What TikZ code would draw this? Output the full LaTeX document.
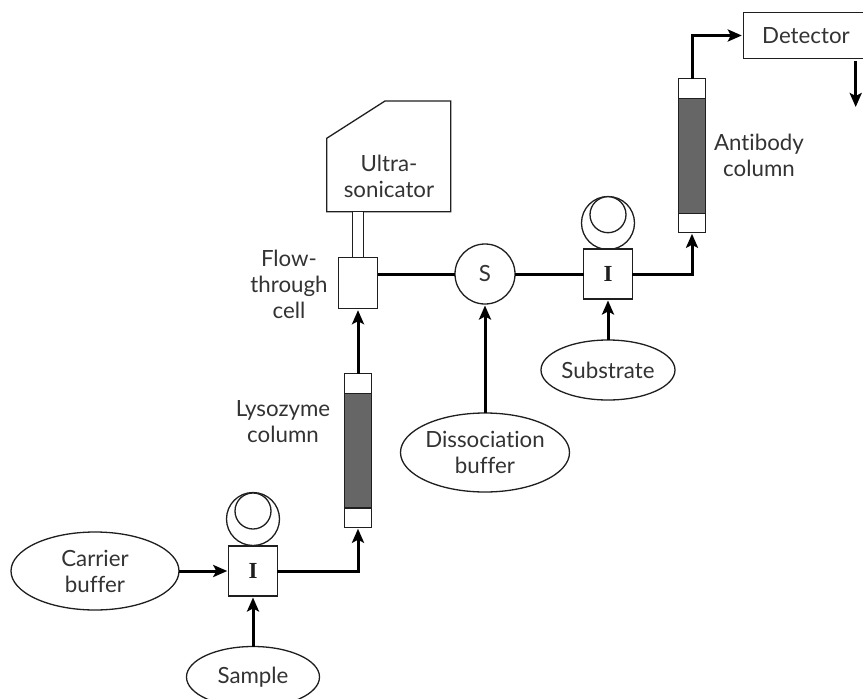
\documentclass[tikz,border=0pt]{standalone}
\usepackage{fontspec}
\setmainfont[Ligatures={NoCommon}]{Lato}
\newfontfamily\injfont{Liberation Serif}
\usetikzlibrary{arrows.meta,shapes.geometric,calc}
\definecolor{ink}{gray}{0.12}
\definecolor{tx}{gray}{0.2}
\definecolor{packing}{gray}{0.4}
\tikzset{
 x=1pt,y=-1pt,
 shapeline/.style={draw=ink,line width=1.3pt,fill=white,inner sep=0pt,outer sep=0pt},
 oval/.style={shapeline,ellipse,align=center,font=\lab,text=tx},
 lbl/.style={align=center,font=\lab,inner sep=0pt,text=tx},
 injbox/.style={shapeline,rectangle,minimum width=48.5pt,minimum height=50pt,font=\fontsize{23}{26}\injfont\bfseries,text=ink},
 flow/.style={draw=black,line width=3pt,line join=miter},
 flowa/.style={flow,-{Stealth[length=14pt,width=12pt,inset=3pt]},shorten >=1.5pt},
}
\newcommand{\lab}{\fontsize{22.3}{26}\selectfont}
\begin{document}
\begin{tikzpicture}
\useasboundingbox (0,0) rectangle (863,699);
% ellipses
\node[oval,minimum width=168pt,minimum height=78pt] (carrier) at (95,571) {Carrier\\buffer};
\node[oval,minimum width=133pt,minimum height=61pt] (sample) at (253,677) {Sample};
\node[oval,minimum width=169pt,minimum height=79pt] (diss) at (485,452.5) {Dissociation\\buffer};
\node[oval,minimum width=134pt,minimum height=60pt] (subs) at (608,370) {Substrate};
% injector 1
\node[shapeline,circle,minimum size=53pt] (pumpA) at (253,519) {};
\node[shapeline,circle,minimum size=36pt] (rollA) at (253,511) {};
\node[injbox] (injA) at (253,571) {I};
% injector 2
\node[shapeline,circle,minimum size=53pt] (pumpB) at (608,223) {};
\node[shapeline,circle,minimum size=36pt] (rollB) at (608,214.7) {};
\node[injbox] (injB) at (608,274) {I};
% lysozyme column
\node[shapeline,rectangle,minimum width=26.5pt,minimum height=153.5pt] (lyso) at (358,450.5) {};
\node[shapeline,rectangle,fill=packing,minimum width=26.5pt,minimum height=114.7pt] (lysoP) at (358,450.6) {};
% antibody column
\node[shapeline,rectangle,minimum width=26.7pt,minimum height=153.6pt] (anti) at (692,155.5) {};
\node[shapeline,rectangle,fill=packing,minimum width=26.7pt,minimum height=115pt] (antiP) at (692,155.8) {};
% ultrasonicator
\coordinate (uA) at (326.7,211.7);
\coordinate (uB) at (450.7,211.7);
\coordinate (uC) at (450.7,101);
\coordinate (uD) at (385,101);
\coordinate (uE) at (326.7,138.3);
\draw[draw=ink,line width=1.3pt,line join=miter] (uA) -- (uB) -- (uC) -- (uD) -- (uE) -- cycle;
\node[lbl] (ultra) at (389,176.5) {Ultra-\\sonicator};
% flow cell and stem
\node[shapeline,rectangle,minimum width=39pt,minimum height=51.4pt] (cell) at (358,283) {};
\node[shapeline,rectangle,minimum width=11pt,minimum height=45.6pt] (stem) at (358,234.5) {};
% switch
\node[shapeline,circle,minimum size=60pt,font=\lab,text=tx] (switch) at (485,274) {S};
% detector
\node[shapeline,rectangle,minimum width=140pt,minimum height=46.4pt,anchor=west] (det) at (743.3,35.5) {};
\node[lbl] (detT) at (806,36) {Detector};
\coordinate (waste) at (855.7,107);
\coordinate (detOut) at (855.7,61);
% labels
\node[lbl] (flowL) at (289,284) {Flow-\\through\\cell};
\node[lbl] (lysoL) at (283,421.5) {Lysozyme\\column};
\node[lbl] (antiL) at (759,155.5) {Antibody\\column};
% connectors
\draw[flowa] (carrier.east) -- (injA.west);
\draw[flowa] (sample.north) -- (injA.south);
\draw[flowa] (injA.east) -| (lyso.south);
\draw[flowa] (lyso.north) -- (cell.south);
\draw[flow] (cell.east |- switch.west) -- (switch.west);
\draw[flowa] (diss.north) -- (switch.south);
\draw[flow] (switch.east) -- (injB.west);
\draw[flowa] (subs.north) -- (injB.south);
\draw[flowa] (injB.east) -| (anti.south);
\draw[flowa] (anti.north) |- (det.west);
\draw[flowa,shorten >=0pt] (detOut) -- (waste);
\end{tikzpicture}
\end{document}
